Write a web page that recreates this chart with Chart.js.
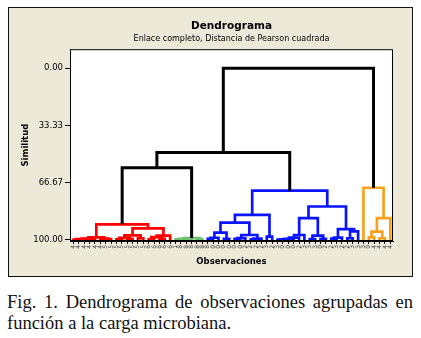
<!DOCTYPE html>
<html>
<head>
<meta charset="utf-8">
<script src="https://cdn.jsdelivr.net/npm/chart.js@4.4.1/dist/chart.umd.min.js"></script>
<style>
  html, body { margin: 0; padding: 0; background: #fff; width: 421px; height: 338px; overflow: hidden; }
  #wrap { position: absolute; left: 0; top: 0; width: 421px; height: 280px; }
  .cap { position: absolute; left: 7px; width: 406px; font-family: "Liberation Serif", serif; font-size: 18.5px; color: #111; white-space: nowrap; }
  #cap1 { top: 292px; text-align: justify; text-align-last: justify; }
  #cap2 { top: 313px; }
</style>
</head>
<body>
<div id="wrap"><canvas id="dendro" width="421" height="280"></canvas></div>
<div class="cap" id="cap1">Fig. 1. Dendrograma de observaciones agrupadas en</div>
<div class="cap" id="cap2">función a la carga microbiana.</div>
<script>
// Dendrogram - observations clustered by microbial load

// leaf labels, in dendrogram order
const leafLabels = [
  '4','4','4','4','4','4','5','5','5','5','5','5','5','5','6','6','6','6','6',
  '1','8','8','8','8','8',
  '8','0','0','0','0','0','0','2','2','2','2','3','2','3','0','0','0','2','3','3','3','0','2','2','3','2','2','3','3',
  '3','0','4','4','4','4'
];
// cluster of each leaf (1 red, 2 green, 3 blue, 4 orange)
const leafCluster = [
  1,1,1,1,1,1,1,1,1,1,1,1,1,1,1,1,1,1,1,
  2,2,2,2,2,2,
  3,3,3,3,3,3,3,3,3,3,3,3,3,3,3,3,3,3,3,3,3,3,3,3,3,3,3,3,3,
  4,4,4,4,4,4
];
// merges: [node a, node b, similarity]; leaves are 0..59, merge k makes node 60+k
const merges = [
  [0, 1, 99.8], [2, 3, 99.8], [60, 61, 99.5], [62, 4, 99.2], [6, 7, 99.5],
  [5, 64, 99.2], [63, 65, 98.5], [8, 9, 99.6], [10, 11, 99.4], [67, 68, 98.8],
  [12, 13, 99.0], [69, 70, 97.3], [14, 15, 99.6], [16, 17, 99.4], [72, 73, 98.3],
  [74, 18, 97.5], [71, 75, 93.3], [66, 76, 90.9],
  [19, 20, 99.6], [21, 22, 99.6], [78, 79, 99.3], [23, 24, 99.5], [80, 81, 98.9],
  [77, 82, 57.9],
  [25, 26, 99.4], [84, 27, 98.7], [28, 29, 99.3], [85, 86, 95.7], [30, 31, 99.3],
  [88, 32, 98.9], [33, 34, 99.6], [90, 35, 99.2], [89, 91, 97.1], [87, 92, 89.9],
  [36, 37, 98.1], [93, 94, 85.4], [38, 39, 99.8], [96, 40, 99.6], [97, 41, 99.4],
  [98, 42, 98.6], [99, 43, 97.1], [44, 45, 99.5], [46, 47, 99.3], [101, 102, 97.5],
  [100, 103, 87.3], [48, 49, 99.2], [105, 50, 98.6], [51, 52, 99.0], [107, 53, 95.0],
  [106, 108, 93.7], [104, 109, 80.5], [95, 110, 71.3],
  [83, 111, 49.1],
  [55, 56, 98.5], [57, 58, 99.0], [113, 114, 95.1], [115, 59, 87.3], [54, 116, 69.6],
  [112, 117, 0.0]
];
const yTicks = [0, 33.33, 66.67, 100];

const clusterColors = ['#000000', '#ff0000', '#70c070', '#0a14ff', '#f7a21e'];

// node positions from the tree
const nodeX = leafLabels.map((_, i) => i);
const nodeY = leafLabels.map(() => 100);
const nodeGroup = leafCluster.slice();
merges.forEach(([a, b, sim]) => {
  nodeX.push((nodeX[a] + nodeX[b]) / 2);
  nodeY.push(sim);
  nodeGroup.push(nodeGroup[a] === nodeGroup[b] ? nodeGroup[a] : 0);
});

const datasets = merges.map(([a, b, sim], k) => {
  const g = nodeGroup[leafLabels.length + k];
  return {
    data: [
      { x: nodeX[a], y: nodeY[a] },
      { x: nodeX[a], y: sim },
      { x: nodeX[b], y: sim },
      { x: nodeX[b], y: nodeY[b] }
    ],
    showLine: true,
    borderColor: clusterColors[g],
    borderWidth: g === 0 ? 3 : 2.7,
    borderJoinStyle: 'miter',
    pointRadius: 0,
    tension: 0,
    order: g === 0 ? 0 : 1
  };
});

const panel = {
  id: 'panel',
  beforeDraw(chart) {
    const { ctx, chartArea: a } = chart;
    ctx.save();
    ctx.fillStyle = '#ece9d8';
    ctx.fillRect(8, 7, 405, 270);
    ctx.strokeStyle = '#111';
    ctx.lineWidth = 1;
    ctx.strokeRect(8.5, 7.5, 404, 269);
    ctx.fillStyle = '#fff';
    ctx.fillRect(a.left, a.top, a.right - a.left, a.bottom - a.top);
    ctx.restore();
  },
  afterDatasetsDraw(chart) {
    const { ctx, chartArea: a } = chart;
    ctx.save();
    ctx.strokeStyle = '#000';
    ctx.lineWidth = 1;
    ctx.strokeRect(a.left + 0.5, a.top + 0.5, a.right - a.left - 1, a.bottom - a.top - 1);
    ctx.restore();
  }
};

const font = '"DejaVu Sans", Tahoma, sans-serif';

new Chart(document.getElementById('dendro'), {
  type: 'scatter',
  data: { datasets },
  plugins: [panel],
  options: {
    responsive: false,
    animation: false,
    layout: { padding: { left: 9, right: 28, top: 0, bottom: 9 } },
    plugins: {
      legend: { display: false },
      tooltip: { enabled: false },
      title: {
        display: true,
        text: 'Dendrograma',
        fullSize: false,
        color: '#000',
        font: { family: font, size: 10.5, weight: 'bold' },
        padding: { top: 20, bottom: 0 }
      },
      subtitle: {
        display: true,
        text: 'Enlace completo, Distancia de Pearson cuadrada',
        fullSize: false,
        color: '#000',
        font: { family: font, size: 8 },
        padding: { top: 2, bottom: 5 }
      }
    },
    scales: {
      x: {
        type: 'linear',
        position: 'bottom',
        min: -0.65,
        max: 59.5,
        afterBuildTicks: s => { s.ticks = leafLabels.map((_, i) => ({ value: i })); },
        afterFit: s => { s.height = 30; },
        ticks: {
          autoSkip: false,
          minRotation: 90,
          maxRotation: 90,
          padding: 1,
          color: '#444',
          font: { family: font, size: 6 },
          callback: v => leafLabels[v]
        },
        grid: { drawOnChartArea: false, tickLength: 3, color: '#000' },
        border: { color: '#000' },
        title: {
          display: true,
          text: 'Observaciones',
          color: '#000',
          font: { family: font, size: 8.5, weight: 'bold' },
          padding: { bottom: 4.6 }
        }
      },
      y: {
        type: 'linear',
        reverse: true,
        min: -11.1,
        max: 100.6,
        afterBuildTicks: s => { s.ticks = yTicks.map(v => ({ value: v })); },
        afterFit: s => { s.width = 61; },
        ticks: {
          padding: 2,
          color: '#000',
          font: { family: font, size: 8.5 },
          callback: v => v.toFixed(2)
        },
        grid: { drawOnChartArea: false, tickLength: 5, color: '#000' },
        border: { color: '#000' },
        title: {
          display: true,
          text: 'Similitud',
          color: '#000',
          font: { family: font, size: 8.5, weight: 'bold' },
          padding: { top: 12 }
        }
      }
    }
  }
});
</script>
</body>
</html>
